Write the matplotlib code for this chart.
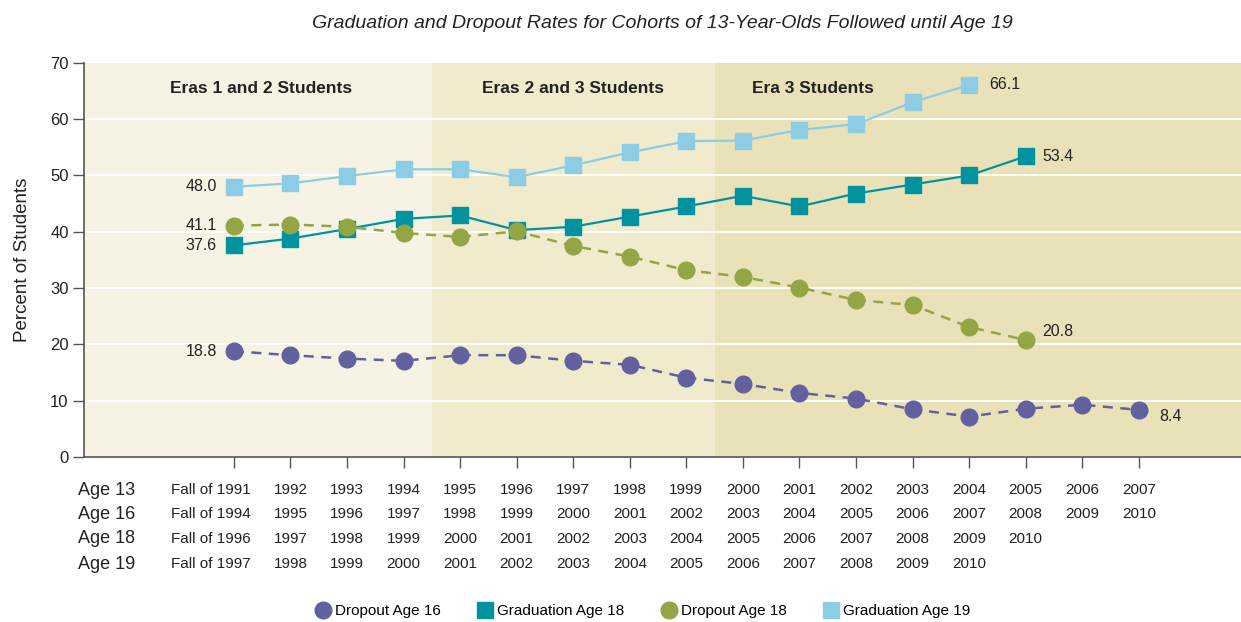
import matplotlib
matplotlib.use("Agg")
from matplotlib import pyplot as plt
from matplotlib.lines import Line2D
from matplotlib import transforms

plt.rcParams['font.family'] = ['Liberation Sans', 'DejaVu Sans']

# data (cohorts entering age 13 in fall 1991..2007)
age13 = ['Fall of 1991', '1992', '1993', '1994', '1995', '1996', '1997', '1998', '1999',
         '2000', '2001', '2002', '2003', '2004', '2005', '2006', '2007']
age16 = ['Fall of 1994', '1995', '1996', '1997', '1998', '1999', '2000', '2001', '2002',
         '2003', '2004', '2005', '2006', '2007', '2008', '2009', '2010']
age18 = ['Fall of 1996', '1997', '1998', '1999', '2000', '2001', '2002', '2003', '2004',
         '2005', '2006', '2007', '2008', '2009', '2010']
age19 = ['Fall of 1997', '1998', '1999', '2000', '2001', '2002', '2003', '2004', '2005',
         '2006', '2007', '2008', '2009', '2010']

dropout16 = [18.8, 18.1, 17.5, 17.1, 18.1, 18.1, 17.1, 16.4, 14.1, 13.0, 11.4, 10.4, 8.5, 7.2, 8.6, 9.3, 8.4]
grad18 = [37.6, 38.8, 40.5, 42.3, 42.9, 40.3, 40.9, 42.7, 44.5, 46.4, 44.5, 46.8, 48.4, 50.0, 53.4]
dropout18 = [41.1, 41.3, 40.9, 39.8, 39.1, 40.1, 37.5, 35.6, 33.2, 32.0, 30.1, 27.9, 27.0, 23.1, 20.8]
grad19 = [48.0, 48.6, 49.9, 51.1, 51.1, 49.7, 51.8, 54.1, 56.1, 56.2, 58.1, 59.1, 63.0, 66.1]

eras = ['Eras 1 and 2 Students', 'Eras 2 and 3 Students', 'Era 3 Students']

c_purple = '#62609f'
c_teal = '#00939f'
c_olive = '#93a544'
c_lblue = '#8dcce5'
band_colors = ['#f6f3e4', '#f0ebcc', '#e9e2b9']
text_col = '#222222'

fig = plt.figure(figsize=(12.41, 6.22), dpi=100)
ax = fig.add_axes([0.0677, 0.265, 0.932, 0.634])

xmin, xmax = -2.65, 17.8
ax.set_xlim(xmin, xmax)
ax.set_ylim(0, 70)

# era bands
ax.axvspan(xmin, 3.5, color=band_colors[0], lw=0, zorder=0)
ax.axvspan(3.5, 8.5, color=band_colors[1], lw=0, zorder=0)
ax.axvspan(8.5, xmax, color=band_colors[2], lw=0, zorder=0)
for y in range(10, 70, 10):
    ax.axhline(y, color='white', lw=1.3, zorder=1)

ax.text(0.48, 65.5, eras[0], ha='center', va='center', fontsize=12.5, fontweight='bold', color=text_col)
ax.text(6.0, 65.5, eras[1], ha='center', va='center', fontsize=12.5, fontweight='bold', color=text_col)
ax.text(10.23, 65.5, eras[2], ha='center', va='center', fontsize=12.5, fontweight='bold', color=text_col)

# series
ax.plot(range(len(grad19)), grad19, color=c_lblue, lw=1.6, marker='s', ms=11, zorder=3)
ax.plot(range(len(dropout16)), dropout16, color=c_purple, lw=1.8, ls=(0, (4, 3)), marker='o', ms=12, zorder=3)
ax.plot(range(len(grad18)), grad18, color=c_teal, lw=1.6, marker='s', ms=11, zorder=3)
ax.plot(range(len(dropout18)), dropout18, color=c_olive, lw=1.8, ls=(0, (4, 3)), marker='o', ms=12, zorder=4)

# end labels
lab = dict(fontsize=11.5, color=text_col, va='center')
ax.text(-0.3, grad19[0], '%.1f' % grad19[0], ha='right', **lab)
ax.text(-0.3, dropout18[0], '%.1f' % dropout18[0], ha='right', **lab)
ax.text(-0.3, grad18[0], '%.1f' % grad18[0], ha='right', **lab)
ax.text(-0.3, dropout16[0], '%.1f' % dropout16[0], ha='right', **lab)
ax.text(len(grad19) - 1 + 0.35, grad19[-1], '%.1f' % grad19[-1], ha='left', **lab)
ax.text(len(grad18) - 1 + 0.3, grad18[-1], '%.1f' % grad18[-1], ha='left', **lab)
ax.text(len(dropout18) - 1 + 0.3, dropout18[-1] + 1.5, '%.1f' % dropout18[-1], ha='left', **lab)
ax.text(len(dropout16) - 1 + 0.37, dropout16[-1] - 1.1, '%.1f' % dropout16[-1], ha='left', **lab)

# axes styling
for s in ['top', 'right']:
    ax.spines[s].set_visible(False)
for s in ['left', 'bottom']:
    ax.spines[s].set_color('#555555')
    ax.spines[s].set_linewidth(1.2)
ax.set_yticks(range(0, 80, 10))
ax.set_xticks(range(len(age13)))
ax.set_xticklabels([])
ax.tick_params(axis='y', length=8, width=1, color='#555555', labelsize=12, labelcolor=text_col, pad=3)
ax.tick_params(axis='x', length=8, width=1, color='#555555')
ax.set_ylabel('Percent of Students', fontsize=13.5, color=text_col, labelpad=14)

# cohort rows under the axis
trans = transforms.blended_transform_factory(ax.transData, ax.transAxes)
rows = [('Age 13', age13, -0.084), ('Age 16', age16, -0.145),
        ('Age 18', age18, -0.207), ('Age 19', age19, -0.272)]
for name, labels, yy in rows:
    fig.text(0.063, 0.265 + yy * 0.634, name, ha='left', va='center', fontsize=13, color=text_col)
    for i, t in enumerate(labels):
        if i == 0:
            # the year of "Fall of ..." sits over the tick
            ax.text(i + 0.29, yy, t, transform=trans, ha='right', va='center', fontsize=11, color=text_col)
        else:
            ax.text(i, yy, t, transform=trans, ha='center', va='center', fontsize=11, color=text_col)

fig.text(0.534, 0.962, 'Graduation and Dropout Rates for Cohorts of 13-Year-Olds Followed until Age 19',
         ha='center', va='center', fontsize=14, style='italic', color=text_col)

handles = [
    Line2D([], [], ls='none', marker='o', ms=12, color=c_purple, label='Dropout Age 16'),
    Line2D([], [], ls='none', marker='s', ms=11, color=c_teal, label='Graduation Age 18'),
    Line2D([], [], ls='none', marker='o', ms=12, color=c_olive, label='Dropout Age 18'),
    Line2D([], [], ls='none', marker='s', ms=11, color=c_lblue, label='Graduation Age 19'),
]
fig.legend(handles=handles, loc='center', bbox_to_anchor=(0.518, 0.017), ncol=4, frameon=False,
           fontsize=11, handletextpad=0.3, columnspacing=2.4, handlelength=1.0)

fig.savefig('out.png', dpi=100)
